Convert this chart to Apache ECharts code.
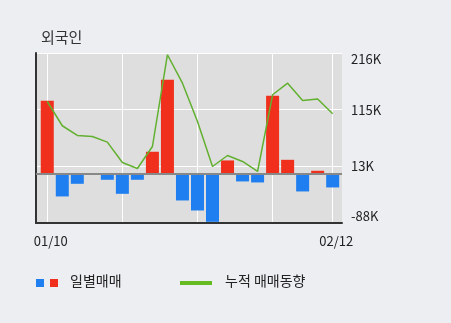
<!DOCTYPE html>
<html>
<head>
<meta charset="utf-8">
<script src="https://cdn.jsdelivr.net/npm/echarts@6/dist/echarts.min.js"></script>
<style>
  html, body { margin: 0; padding: 0; background: #eceef2; }
  #chart { width: 451px; height: 323px; }
</style>
</head>
<body>
<div id="chart"></div>
<script>
// 일별 순매매 (20 거래일)
const dailyTrade = [130600, -40500, -17900, -1000, -10700, -35800, -10700, 39400, 168000, -47700,
  -65600, -85900, 23900, -13700, -15500, 139500, 25000, -31600, 5400, -24400];
// 누적 매매동향
const cumulative = [129300, 85900, 68500, 66700, 56700, 20200, 9500, 48800, 212900, 162000,
  93600, 13000, 32700, 22000, 4100, 141300, 162000, 131000, 133600, 107300];
// x축 라벨 (거래일 인덱스)
const dateIndex = [0, 19];
const dateLabels = ["01/10", "02/12"];
const gridIndex = [0, 5, 10, 15, 19];
// y축 눈금
const yTicks = [-88000, 13333, 114667, 216000];
const yTickLabels = ["-88K", "13K", "115K", "216K"];

const font = "'Noto Sans CJK KR', 'DejaVu Sans', sans-serif";
const RED = "#f0301c";
const BLUE = "#1f7ff0";

const option = {
  backgroundColor: "#eceef2",
  animation: false,
  textStyle: { fontFamily: font },
  title: {
    text: "외국인",
    left: 36,
    top: 25,
    textStyle: { fontSize: 15, fontWeight: "normal", color: "#333", fontFamily: font },
  },
  grid: {
    left: 36,
    right: 109,
    top: 53,
    bottom: 100,
    show: true,
    backgroundColor: "#dedede",
    borderWidth: 0,
  },
  xAxis: {
    type: "value",
    min: -0.75,
    max: 19.62,
    axisLine: { onZero: false, lineStyle: { color: "#333", width: 2 } },
    axisTick: { show: false, customValues: gridIndex },
    splitLine: { show: true, lineStyle: { color: "#fff", width: 1 } },
    axisLabel: {
      customValues: dateIndex,
      margin: 12,
      padding: [0, 0, 0, 7],
      color: "#222",
      fontSize: 13,
      fontFamily: font,
      formatter: (v) => dateLabels[dateIndex.indexOf(v)] || "",
    },
  },
  yAxis: [
    {
      type: "value",
      position: "right",
      min: -88000,
      max: 216000,
      axisLine: { show: false },
      axisTick: { show: false, customValues: yTicks },
      splitLine: { show: true, lineStyle: { color: "#fff", width: 1 } },
      axisLabel: {
        customValues: yTicks,
        margin: 9,
        color: "#222",
        fontSize: 13,
        fontFamily: font,
        verticalAlignMinLabel: "bottom",
        verticalAlignMaxLabel: "top",
        formatter: (v) => yTickLabels[yTicks.indexOf(v)] || "",
      },
    },
    {
      type: "value",
      position: "left",
      min: -88000,
      max: 216000,
      axisLine: { show: true, lineStyle: { color: "#333", width: 2 } },
      axisTick: { show: false },
      splitLine: { show: false },
      axisLabel: { show: false },
    },
  ],
  series: [
    {
      name: "일별매매",
      type: "bar",
      barWidth: 13,
      data: dailyTrade.map((v, i) => [i, v]),
      itemStyle: {
        color: (p) => (p.value[1] >= 0 ? RED : BLUE),
      },
      markLine: {
        silent: true,
        symbol: "none",
        label: { show: false },
        lineStyle: { color: "#888", width: 2, type: "solid" },
        data: [{ yAxis: 0 }],
      },
      z: 2,
    },
    {
      name: "누적 매매동향",
      type: "line",
      data: cumulative.map((v, i) => [i, v]),
      symbol: "none",
      lineStyle: { color: "#62b030", width: 1.5 },
      z: 4,
    },
  ],
  graphic: [
    { type: "rect", left: 36, top: 279, shape: { width: 8, height: 8 }, style: { fill: BLUE } },
    { type: "rect", left: 50, top: 279, shape: { width: 8, height: 8 }, style: { fill: RED } },
    {
      type: "text", left: 70, top: 274,
      style: { text: "일별매매", fill: "#222", font: "14px " + font },
    },
    { type: "rect", left: 180, top: 281, shape: { width: 32, height: 4 }, style: { fill: "#66bb22" } },
    {
      type: "text", left: 225, top: 274,
      style: { text: "누적 매매동향", fill: "#222", font: "14px " + font },
    },
  ],
};

const myChart = echarts.init(document.getElementById("chart"));
myChart.setOption(option);
window.addEventListener("resize", function () {
  myChart.resize();
});
</script>
</body>
</html>
